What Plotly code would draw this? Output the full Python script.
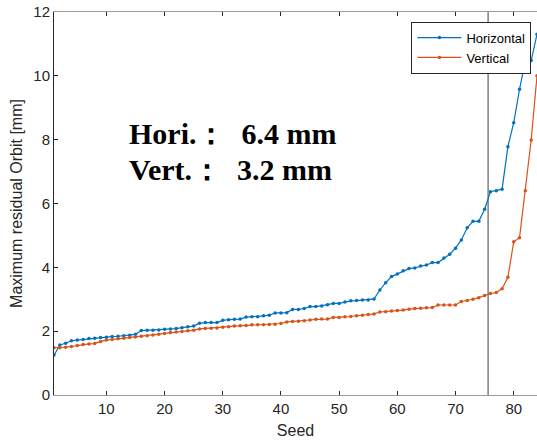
import plotly.graph_objects as go

seed = list(range(1, 85))
horizontal = [
    1.25, 1.57, 1.62, 1.70, 1.72, 1.74, 1.77, 1.78, 1.80, 1.81,
    1.83, 1.84, 1.86, 1.87, 1.90, 2.02, 2.03, 2.03, 2.04, 2.06,
    2.07, 2.08, 2.11, 2.14, 2.16, 2.25, 2.27, 2.27, 2.27, 2.34,
    2.36, 2.37, 2.38, 2.44, 2.45, 2.45, 2.48, 2.50, 2.57, 2.57,
    2.58, 2.68, 2.68, 2.71, 2.77, 2.77, 2.79, 2.83, 2.87, 2.87,
    2.91, 2.95, 2.96, 2.98, 2.98, 3.01, 3.29, 3.52, 3.71, 3.79,
    3.89, 3.96, 3.98, 4.04, 4.07, 4.15, 4.15, 4.29, 4.41, 4.60,
    4.86, 5.24, 5.44, 5.44, 5.82, 6.37, 6.40, 6.45, 7.78, 8.53,
    9.58, 10.48, 10.48, 11.3,
]
vertical = [
    1.48, 1.48, 1.50, 1.52, 1.55, 1.58, 1.60, 1.61, 1.68, 1.72,
    1.74, 1.76, 1.78, 1.80, 1.82, 1.84, 1.86, 1.88, 1.90, 1.93,
    1.96, 1.97, 1.99, 2.01, 2.03, 2.07, 2.08, 2.09, 2.10, 2.12,
    2.14, 2.16, 2.17, 2.18, 2.20, 2.20, 2.20, 2.21, 2.22, 2.24,
    2.29, 2.30, 2.31, 2.33, 2.35, 2.37, 2.38, 2.38, 2.43, 2.43,
    2.45, 2.46, 2.48, 2.50, 2.52, 2.54, 2.60, 2.61, 2.63, 2.65,
    2.66, 2.69, 2.71, 2.72, 2.73, 2.74, 2.82, 2.82, 2.82, 2.82,
    2.93, 2.96, 3.00, 3.05, 3.12, 3.18, 3.21, 3.33, 3.69, 4.80,
    4.93, 6.40, 7.99, 10.0,
]
percentile_seed = 75.6
y_limits = [0, 12]
x_ticks = [10, 20, 30, 40, 50, 60, 70, 80]
y_ticks = [0, 2, 4, 6, 8, 10, 12]
text_lines = ["Hori.：  6.4 mm", "Vert.：  3.2 mm"]

blue = "#0072BD"
orange = "#D95319"

fig = go.Figure()
fig.add_trace(go.Scatter(
    x=[percentile_seed, percentile_seed], y=y_limits, mode="lines",
    line=dict(color="#7f7f7f", width=1.5), showlegend=False, hoverinfo="skip"))
fig.add_trace(go.Scatter(
    x=seed, y=horizontal, mode="lines+markers", name="Horizontal",
    line=dict(color=blue, width=1.2), marker=dict(color=blue, size=3.5)))
fig.add_trace(go.Scatter(
    x=seed, y=vertical, mode="lines+markers", name="Vertical",
    line=dict(color=orange, width=1.2), marker=dict(color=orange, size=3.5)))

for t, yv in zip(text_lines, [8.2, 7.05]):
    fig.add_annotation(
        x=13.6, y=yv, xref="x", yref="y", text="<b>" + t + "</b>", showarrow=False,
        xanchor="left", yanchor="middle",
        font=dict(family="Liberation Serif, Times New Roman, serif", size=30, color="black"))

axis_font = dict(family="Liberation Sans, Arial, sans-serif", size=15, color="#262626")
fig.update_layout(
    width=537, height=442,
    margin=dict(l=54, r=0, t=12, b=47),
    paper_bgcolor="white", plot_bgcolor="white",
    font=axis_font,
    xaxis=dict(
        range=[1, 84], tickvals=x_ticks, ticks="inside", ticklen=4, tickcolor="#262626",
        showline=True, linecolor="#9a9a9a", linewidth=1, mirror="ticks",
        showgrid=False, zeroline=False,
        title=dict(text="Seed", font=dict(size=16, color="#262626"), standoff=8),
        tickfont=axis_font),
    yaxis=dict(
        range=y_limits, tickvals=y_ticks, ticks="inside", ticklen=4, tickcolor="#262626",
        showline=True, linecolor="#262626", linewidth=1, mirror=False,
        showgrid=False, zeroline=False,
        title=dict(text="Maximum residual Orbit [mm]", font=dict(size=16, color="#262626"), standoff=6),
        tickfont=axis_font),
    legend=dict(
        x=0.74, y=0.975, xanchor="left", yanchor="top",
        bgcolor="white", bordercolor="#262626", borderwidth=1,
        font=dict(family="Liberation Sans, Arial, sans-serif", size=13, color="black"),
        itemwidth=44, tracegroupgap=0),
)

fig.write_html("out.html")
